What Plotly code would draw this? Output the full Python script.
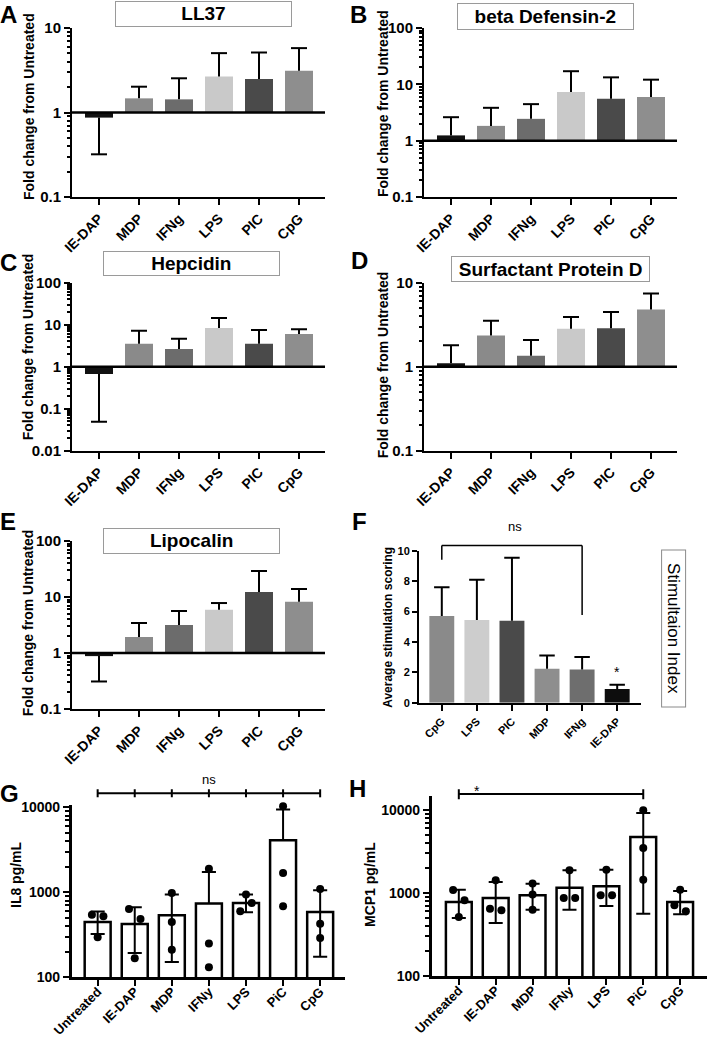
import numpy as np
import plotly.graph_objects as go

W, H = 709, 1038
FONT = "Arial, Liberation Sans, Helvetica, sans-serif"


def px(x):
    return x / W


def py(y):
    return 1 - y / H


# ---------------- data ----------------
fold_cats = ["IE-DAP", "MDP", "IFNg", "LPS", "PIC", "CpG"]
fold_colors = ["#111111", "#8a8a8a", "#6c6c6c", "#c9c9c9", "#4a4a4a", "#8e8e8e"]

ll37_mean = [0.87, 1.47, 1.43, 2.66, 2.49, 3.13]
ll37_err = [0.32, 2.02, 2.54, 5.04, 5.13, 5.78]

bd2_mean = [1.24, 1.83, 2.44, 7.3, 5.55, 5.94]
bd2_err = [2.61, 3.83, 4.45, 17.1, 13.3, 12.1]

hep_mean = [0.67, 3.53, 2.63, 8.3, 3.53, 6.0]
hep_err = [0.049, 7.2, 4.64, 14.4, 7.46, 7.74]

spd_mean = [1.1, 2.36, 1.35, 2.83, 2.86, 4.81]
spd_err = [1.8, 3.53, 2.08, 3.9, 4.48, 7.46]

lip_mean = [0.88, 1.93, 3.16, 5.94, 12.3, 8.25]
lip_err = [0.31, 3.43, 5.62, 7.8, 29.1, 13.9]

stim_cats = ["CpG", "LPS", "PIC", "MDP", "IFNg", "IE-DAP"]
stim_colors = ["#8a8a8a", "#cdcdcd", "#4a4a4a", "#8e8e8e", "#6e6e6e", "#0d0d0d"]
stim_mean = [5.70, 5.44, 5.39, 2.24, 2.19, 0.90]
stim_err = [7.59, 8.09, 9.54, 3.11, 3.00, 1.18]
stim_bracket = [9.4, 10.35, 5.77]  # left end, top, right end
stim_star = 2.05

cyt_cats = ["Untreated", "IE-DAP", "MDP", "IFNy", "LPS", "PiC", "CpG"]
il8_mean = [448, 424, 537, 736, 750, 4083, 587]
il8_hi = [593, 667, 940, 1736, 940, 9400, 1056]
il8_lo = [324, 193, 151, None, 582, None, 174]
il8_pts = [[546, 522, 295], [637, 486, 167], [982, 448, 211], [1897, 249, 131],
           [940, 750, 598], [10280, 1687, 684], [1094, 428, 290]]

mcp1_mean = [779, 870, 937, 1160, 1203, 4730, 779]
mcp1_hi = [1097, 1357, 1295, 1875, 1910, 9200, 1057]
mcp1_lo = [500, 435, 630, 630, 697, 563, 553]
mcp1_pts = [[1090, 820, 514], [1421, 618, 647], [1300, 960, 630], [1875, 871, 871],
            [1910, 937, 937], [9910, 3486, 1448], [1097, 710, 601]]

# ---------------- helpers ----------------
fig = go.Figure()
layout = dict(template="none", width=W, height=H, margin=dict(l=0, r=0, t=0, b=0, pad=0),
              paper_bgcolor="white", plot_bgcolor="white", showlegend=False,
              font=dict(family=FONT, color="black"))
annotations = []
shapes = []


def nm(i):
    return "" if i == 1 else str(i)


def log_minor(lo, hi):
    vals = []
    for d in range(lo, hi):
        for k in range(2, 10):
            vals.append(k * 10.0 ** d)
    return vals


def add_axes(i, x0, x1, y0, y1, xr, cats, yaxis_extra, lab_size, tick_size, lw=2, standoff=0):
    layout["xaxis" + nm(i)] = dict(
        domain=[px(x0), px(x1)], range=xr, anchor="y" + nm(i), automargin=False,
        tickmode="array", tickvals=list(range(len(cats))), ticktext=cats,
        tickangle=-45, showline=True, linewidth=lw, linecolor="black",
        ticks="outside", ticklen=6, tickwidth=2, tickcolor="black",
        ticklabelstandoff=standoff,
        tickfont=dict(size=lab_size, weight="bold", family=FONT, color="black"),
        showgrid=False, zeroline=False, fixedrange=True)
    ya = dict(domain=[py(y1), py(y0)], anchor="x" + nm(i), showline=True, automargin=False,
              linewidth=lw, linecolor="black", ticks="outside", ticklen=6,
              tickwidth=2, tickcolor="black",
              tickfont=dict(size=tick_size, weight="bold", family=FONT, color="black"),
              showgrid=False, zeroline=False, fixedrange=True)
    ya.update(yaxis_extra)
    layout["yaxis" + nm(i)] = ya


def log_extra(lo, hi, top=None):
    decs = [10.0 ** d for d in range(lo, hi + 1)]
    return dict(type="log", range=[lo, hi if top is None else top],
                tickmode="array", tickvals=decs, ticktext=[f"{v:g}" for v in decs],
                minor=dict(tickmode="array", tickvals=log_minor(lo, hi), ticks="outside",
                           ticklen=3.5, tickwidth=1.5, tickcolor="black", showgrid=False))


def err_trace(i, xs, lo, hi, cap, lw=2):
    X, Y = [], []
    for x, a, b in zip(xs, lo, hi):
        X += [x, x, None, x - cap, x + cap, None]
        Y += [a, b, None, b, b, None]
    return go.Scatter(x=X, y=Y, mode="lines", line=dict(color="black", width=lw),
                      xaxis="x" + nm(i), yaxis="y" + nm(i), hoverinfo="skip")


def letter(t, x, y):
    annotations.append(dict(text=f"<b>{t}</b>", x=px(x), y=py(y), xref="paper", yref="paper",
                            showarrow=False, xanchor="center", yanchor="middle",
                            font=dict(size=24, family=FONT, color="black")))


def ytitle(t, x, y, size):
    annotations.append(dict(text=f"<b>{t}</b>", x=px(x), y=py(y), xref="paper", yref="paper",
                            showarrow=False, xanchor="center", yanchor="middle", textangle=-90,
                            font=dict(size=size, family=FONT, color="black")))


def boxtitle(t, cx, cy, w, h):
    annotations.append(dict(text=f"<b>{t}</b>", x=px(cx), y=py(cy), xref="paper", yref="paper",
                            showarrow=False, xanchor="center", yanchor="middle",
                            width=w - 2, height=h - 2, borderpad=0, bordercolor="#9a9a9a",
                            borderwidth=1, align="center",
                            font=dict(size=19, family=FONT, color="black")))


# ---------------- fold-change panels A-E ----------------
fold_panels = [
    (1, "A", "LL37", ll37_mean, ll37_err, 72, 325, 28, 197, (-1, 1), (203.7, 14, 177, 25.7), (8, 14), (29, 107)),
    (2, "B", "beta Defensin-2", bd2_mean, bd2_err, 424, 677, 28, 197, (-1, 2), (545, 16.7, 176.6, 26.7), (358, 14), (383, 104)),
    (3, "C", "Hepcidin", hep_mean, hep_err, 72, 325, 282.7, 450.7, (-2, 2), (191.7, 263.3, 176.7, 25.3), (8, 262), (28.3, 347)),
    (4, "D", "Surfactant Protein D", spd_mean, spd_err, 424, 677, 282.7, 450.7, (-1, 1), (550.3, 269, 199.3, 26), (359, 260), (383.3, 365)),
    (5, "E", "Lipocalin", lip_mean, lip_err, 72, 325, 541, 709, (-1, 2), (191.3, 541.2, 177.3, 25.7), (8, 521), (28.3, 623)),
]

for (i, L, title, mean, err, x0, x1, y0, y1, (lo, hi), box, lpos, tpos) in fold_panels:
    xs = list(range(len(fold_cats)))
    fig.add_trace(go.Bar(x=xs, y=[abs(v - 1) for v in mean], base=[min(v, 1) for v in mean],
                         marker=dict(color=fold_colors, line=dict(width=0)), width=0.7,
                         xaxis="x" + nm(i), yaxis="y" + nm(i), hoverinfo="skip"))
    fig.add_trace(err_trace(i, xs, mean, err, 0.2))
    add_axes(i, x0, x1, y0, y1, [-0.675, 5.65], fold_cats, log_extra(lo, hi), 14, 15)
    shapes.append(dict(type="line", xref="x" + nm(i) + " domain", x0=0, x1=1,
                       yref="y" + nm(i), y0=1, y1=1, line=dict(color="black", width=2.5)))
    boxtitle(title, *box)
    letter(L, *lpos)
    ytitle("Fold change from Untreated", tpos[0], tpos[1], 14)

# ---------------- F: stimulation index ----------------
iF = 6
fx0, fx1, fy0, fy1 = 419, 640.7, 550.7, 702.7
xsF = list(range(len(stim_cats)))
fig.add_trace(go.Bar(x=xsF, y=stim_mean, marker=dict(color=stim_colors, line=dict(width=0)),
                     width=0.71, xaxis="x6", yaxis="y6", hoverinfo="skip"))
fig.add_trace(err_trace(iF, xsF, stim_mean, stim_err, 0.22))
add_axes(iF, fx0, fx1, fy0, fy1, [-0.65, 5.67], stim_cats,
         dict(range=[0, 10], tickmode="array", tickvals=[0, 2, 4, 6, 8, 10], ticklen=5),
         11, 11)


def fpy(v):
    return py(fy1 - (fy1 - fy0) * v / 10.0)


bl, bt, br = stim_bracket
for (xa, xb, ya, yb) in [(0, 0, bl, bt), (0, 4, bt, bt), (4, 4, bt, br)]:
    shapes.append(dict(type="line", xref="x6", yref="paper", x0=xa, x1=xb,
                       y0=fpy(ya), y1=fpy(yb), line=dict(color="black", width=1.5)))
annotations.append(dict(text="ns", x=2.1, xref="x6", y=fpy(bt) + 9 / H, yref="paper",
                        showarrow=False, xanchor="center", yanchor="bottom",
                        font=dict(size=13, family=FONT, color="black")))
annotations.append(dict(text="*", x=5, xref="x6", y=fpy(stim_star), yref="paper",
                        showarrow=False, xanchor="center", yanchor="middle",
                        font=dict(size=14, family=FONT, color="black")))
annotations.append(dict(text="Stimultaion Index", x=px(673.3), y=py(628.8), xref="paper",
                        yref="paper", showarrow=False, xanchor="center", yanchor="middle",
                        textangle=90, width=154, height=21, borderpad=1,
                        bordercolor="#8a8a8a", borderwidth=1,
                        font=dict(size=17, family=FONT, color="black")))
letter("F", 359, 521)
ytitle("Average stimulation scoring", 387.3, 627.5, 12)


# ---------------- G / H cytokine panels ----------------
def spread(vals, d=0.155, thr=0.125):
    order = sorted(range(len(vals)), key=lambda k: -vals[k])
    offs = [0.0] * len(vals)
    groups, cur = [], [order[0]]
    for k in order[1:]:
        if abs(np.log10(vals[cur[-1]]) - np.log10(vals[k])) < thr:
            cur.append(k)
        else:
            groups.append(cur)
            cur = [k]
    groups.append(cur)
    for g in groups:
        if len(g) == 2:
            offs[g[0]], offs[g[1]] = -d, d
        elif len(g) >= 3:
            offs[g[0]], offs[g[1]], offs[g[2]] = 0.0, d, -d
    return offs


cyt_panels = [
    (7, "G", "IL8 pg/mL", il8_mean, il8_hi, il8_lo, il8_pts, 71.7, 345, 805, 977.3, 4.027,
     [-0.70, 6.67], (9, 793), (16, 875)),
    (8, "H", "MCP1 pg/mL", mcp1_mean, mcp1_hi, mcp1_lo, mcp1_pts, 431.7, 706.7, 796, 976, 4.169,
     [-0.735, 6.72], (357, 788), (370, 885)),
]

for (i, L, yt, mean, hi, lo, pts, x0, x1, y0, y1, top, xr, lpos, tpos) in cyt_panels:
    xs = list(range(len(cyt_cats)))
    fig.add_trace(go.Bar(x=xs, y=mean, marker=dict(color="white", line=dict(color="black", width=2.5)),
                         width=0.7, xaxis="x" + nm(i), yaxis="y" + nm(i), hoverinfo="skip"))
    X, Y = [], []
    cap = 0.19
    for x, m, h, l in zip(xs, mean, hi, lo):
        bottom = m if l is None else l
        X += [x, x, None, x - cap, x + cap, None]
        Y += [bottom, h, None, h, h, None]
        if l is not None:
            X += [x - cap, x + cap, None]
            Y += [l, l, None]
    fig.add_trace(go.Scatter(x=X, y=Y, mode="lines", line=dict(color="black", width=2),
                             xaxis="x" + nm(i), yaxis="y" + nm(i), hoverinfo="skip"))
    PX, PY = [], []
    for x, p in zip(xs, pts):
        for o, v in zip(spread(p), p):
            PX.append(x + o)
            PY.append(v)
    fig.add_trace(go.Scatter(x=PX, y=PY, mode="markers", cliponaxis=False,
                             marker=dict(color="black", size=8, line=dict(width=0)),
                             xaxis="x" + nm(i), yaxis="y" + nm(i), hoverinfo="skip"))
    add_axes(i, x0, x1, y0, y1, xr, cyt_cats, log_extra(2, 4, top), 13, 14, lw=2.5, standoff=-7)
    letter(L, *lpos)
    ytitle(yt, tpos[0], tpos[1], 14)

# G bracket (ns) across all groups
shapes.append(dict(type="line", xref="x7", yref="paper", x0=0, x1=6, y0=py(793.3), y1=py(793.3),
                   line=dict(color="black", width=2)))
for k in range(len(cyt_cats)):
    shapes.append(dict(type="line", xref="x7", yref="paper", x0=k, x1=k, y0=py(789.3),
                       y1=py(797.3), line=dict(color="black", width=2)))
annotations.append(dict(text="ns", x=3, xref="x7", y=py(779.3), yref="paper", showarrow=False,
                        xanchor="center", yanchor="middle",
                        font=dict(size=13, family=FONT, color="black")))

# H bracket (*) Untreated vs PiC
shapes.append(dict(type="line", xref="x8", yref="paper", x0=0, x1=5, y0=py(794), y1=py(794),
                   line=dict(color="black", width=2)))
for k in (0, 5):
    shapes.append(dict(type="line", xref="x8", yref="paper", x0=k, x1=k, y0=py(789.3),
                       y1=py(799.3), line=dict(color="black", width=2)))
annotations.append(dict(text="*", x=px(477.3), y=py(790.5), xref="paper", yref="paper",
                        showarrow=False, xanchor="center", yanchor="middle",
                        font=dict(size=14, family=FONT, color="black")))

layout["annotations"] = annotations
layout["shapes"] = shapes
fig.update_layout(**layout)
fig.write_html("out.html", config={"displayModeBar": False},
               post_script="document.body.style.margin='0';document.body.style.overflow='hidden';")
